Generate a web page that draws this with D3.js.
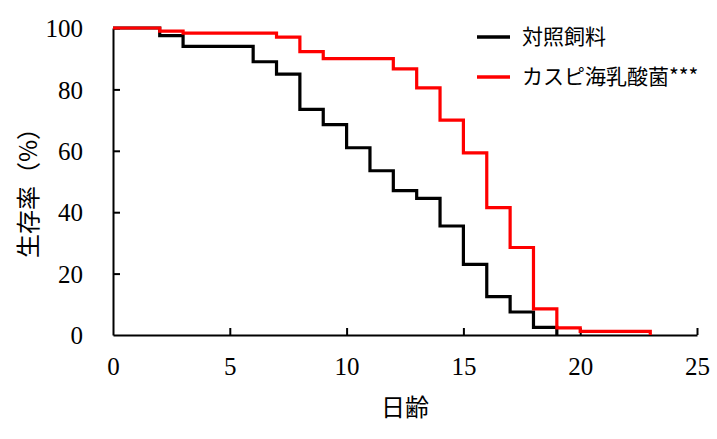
<!DOCTYPE html>
<html>
<head>
<meta charset="utf-8">
<script src="https://cdn.jsdelivr.net/npm/d3@7"></script>
<style>
    body { margin: 0; background: #ffffff; }
    svg { display: block; }
</style>
</head>
<body>
<svg id="chart" width="717" height="439"></svg>
<script>
// 日齢 (x) と生存率 (y)
var controlDays = [0, 2, 3, 6, 7, 8, 9, 10, 11, 12, 13, 14, 15, 16, 17, 18, 19];
var controlSurvival = [100, 97.5, 94, 89, 85, 73.5, 68.5, 61, 53.5, 47, 44.5, 35.5, 23, 12.5, 7.5, 2.5, 0];

var caspianDays = [0, 2, 3, 7, 8, 9, 12, 13, 14, 15, 16, 17, 18, 19, 20, 23];
var caspianSurvival = [100, 99, 98.3, 97, 92.3, 90, 86.7, 80.5, 70, 59.3, 41.5, 28.5, 8.5, 2.3, 1.2, 0];

var seriesNames = ["対照飼料", "カスピ海乳酸菌***"];
var seriesColors = ["#000000", "#ff0000"];

var xTicks = [0, 5, 10, 15, 20, 25];
var yTicks = [0, 20, 40, 60, 80, 100];

var svg = d3.select("#chart");

var x = d3.scaleLinear().domain([0, 25]).range([113, 697]);
var y = d3.scaleLinear().domain([0, 100]).range([335, 28]);

var numFont = "'Liberation Serif', 'Times New Roman', serif";
var jpFont = "'Noto Sans CJK JP', sans-serif";

function toPoints(days, values) {
    return days.map(function (d, i) {
        return {day: d, value: values[i]};
    });
}

var series = [
    {name: seriesNames[0], color: seriesColors[0], points: toPoints(controlDays, controlSurvival)},
    {name: seriesNames[1], color: seriesColors[1], points: toPoints(caspianDays, caspianSurvival)}
];

// 軸
var xAxis = svg.append("g")
    .attr("transform", "translate(0," + y(0) + ")")
    .call(d3.axisBottom(x).tickValues(xTicks).tickSizeInner(-7).tickSizeOuter(0).tickPadding(22));

var yAxis = svg.append("g")
    .attr("transform", "translate(" + x(0) + ",0)")
    .call(d3.axisLeft(y).tickValues(yTicks).tickSizeInner(-7).tickSizeOuter(0).tickPadding(30));

[xAxis, yAxis].forEach(function (ax) {
    ax.select(".domain").attr("stroke", "#000").attr("stroke-width", 2);
    ax.selectAll(".tick line").attr("stroke", "#000").attr("stroke-width", 2);
    ax.selectAll(".tick text")
        .attr("fill", "#000")
        .style("font-family", numFont)
        .style("font-size", "25px");
});
// 0 のところの目盛りは描かない
xAxis.selectAll(".tick").filter(function (d) { return d === 0; }).select("line").remove();
yAxis.selectAll(".tick").filter(function (d) { return d === 0; }).select("line").remove();
yAxis.selectAll(".tick text").attr("dy", "0.35em");

// 生存曲線 (ステップ)
var line = d3.line()
    .x(function (d) { return x(d.day); })
    .y(function (d) { return y(d.value); })
    .curve(d3.curveStepAfter);

series.forEach(function (s) {
    svg.append("path")
        .datum(s.points)
        .attr("fill", "none")
        .attr("stroke", s.color)
        .attr("stroke-width", 3.2)
        .attr("stroke-linejoin", "miter")
        .attr("d", line);
});

// 凡例
var legend = svg.append("g").attr("transform", "translate(477,37)");
var items = legend.selectAll("g")
    .data(series)
    .enter()
    .append("g")
    .attr("transform", function (d, i) { return "translate(0," + (i * 40) + ")"; });

items.append("line")
    .attr("x1", 0).attr("x2", 33)
    .attr("y1", 0).attr("y2", 0)
    .attr("stroke", function (d) { return d.color; })
    .attr("stroke-width", 3.5);

items.append("text")
    .attr("x", 45)
    .attr("y", 0)
    .attr("dy", "0.35em")
    .style("font-family", jpFont)
    .style("font-size", "21px")
    .text(function (d) { return d.name; });

// 軸ラベル
svg.append("text")
    .attr("x", 405)
    .attr("y", 408)
    .attr("dy", "0.35em")
    .attr("text-anchor", "middle")
    .style("font-family", jpFont)
    .style("font-size", "24px")
    .text("日齢");

svg.append("text")
    .attr("transform", "translate(29,187) rotate(-90)")
    .attr("dy", "0.35em")
    .attr("text-anchor", "middle")
    .style("font-family", jpFont)
    .style("font-size", "24px")
    .text("生存率（%）");
</script>
</body>
</html>
